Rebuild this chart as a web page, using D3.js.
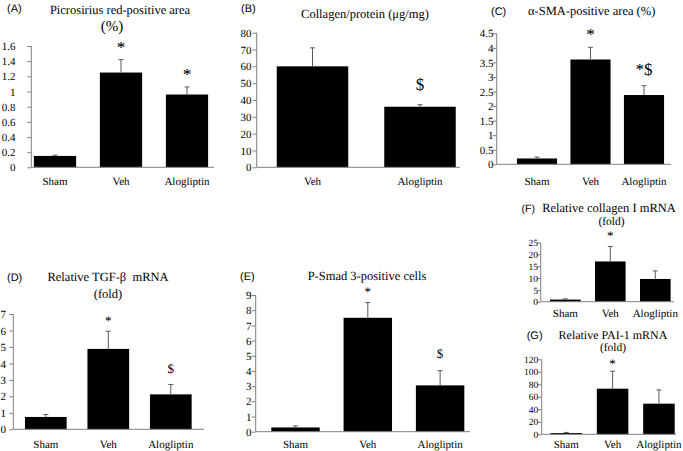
<!DOCTYPE html>
<html>
<head>
<meta charset="utf-8">
<script src="https://cdn.jsdelivr.net/npm/d3@7"></script>
<style>
  html, body { margin: 0; padding: 0; background: #fff; }
  svg { display: block; }
  text { white-space: pre; text-rendering: geometricPrecision; }
</style>
</head>
<body>
<svg id="chart" width="683" height="451"></svg>
<script>
// ---------------- DATA ----------------
const groups3 = ["Sham", "Veh", "Alogliptin"];
const groups2 = ["Veh", "Alogliptin"];

// (A) Picrosirius red-positive area (%)
const picroMean = [0.15, 1.25, 0.96];
const picroErr  = [0.01, 0.17, 0.10];
const picroMarks = ["", "*", "*"];
const picroTicks = [0, 0.2, 0.4, 0.6, 0.8, 1, 1.2, 1.4, 1.6];

// (B) Collagen/protein (ug/mg)
const collMean = [60, 36];
const collErr  = [11, 1.2];
const collMarks = ["", "$"];
const collTicks = [0, 10, 20, 30, 40, 50, 60, 70, 80];

// (C) alpha-SMA-positive area (%)
const smaMean = [0.2, 3.6, 2.38];
const smaErr  = [0.05, 0.42, 0.32];
const smaMarks = ["", "*", "*$"];
const smaTicks = [0, 0.5, 1, 1.5, 2, 2.5, 3, 3.5, 4, 4.5];

// (D) Relative TGF-beta mRNA (fold)
const tgfMean = [0.75, 4.88, 2.12];
const tgfErr  = [0.15, 1.07, 0.60];
const tgfMarks = ["", "*", "$"];
const tgfTicks = [0, 1, 2, 3, 4, 5, 6, 7];

// (E) P-Smad 3-positive cells
const smadMean = [0.28, 7.5, 3.05];
const smadErr  = [0.10, 1.0, 0.97];
const smadMarks = ["", "*", "$"];
const smadTicks = [0, 1, 2, 3, 4, 5, 6, 7, 8, 9];

// (F) Relative collagen I mRNA (fold)
const col1Mean = [0.9, 17, 9.6];
const col1Err  = [0.3, 6.3, 3.4];
const col1Marks = ["", "*", ""];
const col1Ticks = [0, 5, 10, 15, 20, 25];

// (G) Relative PAI-1 mRNA (fold)
const paiMean = [2, 73, 49];
const paiErr  = [1, 28, 22];
const paiMarks = ["", "*", ""];
const paiTicks = [0, 20, 40, 60, 80, 100, 120];

// ---------------- DRAWING ----------------
const svg = d3.select("#chart");
const SERIF = "'Liberation Serif', 'Times New Roman', serif";
const SANS = "'Liberation Sans', Arial, sans-serif";
const AXIS_COL = "#808080";
const ERR_COL = "#5a5a5a";

function panel(c) {
  const g = svg.append("g");
  const y = d3.scaleLinear().domain([0, c.ticks[c.ticks.length - 1]]).range([c.yBase, c.yTop]);
  const x = d3.scaleBand().domain(c.cats).range(c.band)
    .paddingInner(c.pad).paddingOuter(c.pad / 2);

  // bars
  g.selectAll("rect.bar").data(c.cats).join("rect")
    .attr("x", d => x(d))
    .attr("y", (d, i) => y(c.mean[i]))
    .attr("width", x.bandwidth())
    .attr("height", (d, i) => y(0) - y(c.mean[i]))
    .attr("fill", "#000");

  // error bars (upper only)
  const eb = g.selectAll("g.err").data(c.cats).join("g");
  eb.append("line")
    .attr("x1", d => x(d) + x.bandwidth() / 2).attr("x2", d => x(d) + x.bandwidth() / 2)
    .attr("y1", (d, i) => y(c.mean[i])).attr("y2", (d, i) => y(c.mean[i] + c.err[i]))
    .attr("stroke", ERR_COL).attr("stroke-width", 1);
  eb.append("line")
    .attr("x1", d => x(d) + x.bandwidth() / 2 - 2.5).attr("x2", d => x(d) + x.bandwidth() / 2 + 2.5)
    .attr("y1", (d, i) => y(c.mean[i] + c.err[i])).attr("y2", (d, i) => y(c.mean[i] + c.err[i]))
    .attr("stroke", ERR_COL).attr("stroke-width", 1);

  // y axis
  const yAxis = d3.axisLeft(y).tickValues(c.ticks).tickSize(4)
    .tickFormat(d => String(+d.toFixed(2)));
  const ya = g.append("g").attr("transform", `translate(${c.axisX},0)`).call(yAxis);
  ya.select(".domain").attr("stroke", AXIS_COL).attr("d", `M0,${c.yBase}V${c.yTop}`);
  ya.selectAll(".tick line").attr("stroke", AXIS_COL);
  ya.selectAll(".tick text")
    .attr("x", -(c.axisX - c.labelRight))
    .attr("dy", "0.33em")
    .attr("font-family", SERIF).attr("font-size", c.tickFont).attr("fill", "#000");

  // x axis line
  g.append("line")
    .attr("x1", c.axisX).attr("x2", c.axisEnd)
    .attr("y1", c.yBase).attr("y2", c.yBase)
    .attr("stroke", AXIS_COL).attr("stroke-width", 1);

  // category labels
  g.selectAll("text.cat").data(c.cats).join("text")
    .attr("x", d => x(d) + x.bandwidth() / 2)
    .attr("y", c.labelBase)
    .attr("text-anchor", "middle")
    .attr("font-family", SERIF).attr("font-size", 11)
    .text(d => d);

  // significance marks
  g.selectAll("text.mark").data(c.cats).join("text")
    .attr("x", d => x(d) + x.bandwidth() / 2)
    .attr("y", (d, i) => {
      const m = c.marks[i];
      const top = y(c.mean[i] + c.err[i]);
      if (m.includes("$")) return top - c.dollarGap + 0.33 * c.markFont;
      return top - c.starGap + 0.5 * c.markFont;
    })
    .attr("text-anchor", "middle")
    .attr("font-family", SERIF).attr("font-size", c.markFont)
    .attr("fill", "#000")
    .text((d, i) => c.marks[i]);

  // titles
  c.titles.forEach(t => {
    g.append("text").attr("x", t.x).attr("y", t.y)
      .attr("text-anchor", "middle")
      .attr("font-family", SERIF).attr("font-size", t.size)
      .text(t.text);
  });
  g.append("text").attr("x", c.letter.x).attr("y", c.letter.y)
    .attr("font-family", SANS).attr("font-size", c.letter.size || 11)
    .text(c.letter.text);
}

panel({
  cats: groups3, mean: picroMean, err: picroErr, marks: picroMarks, ticks: picroTicks,
  axisX: 31.3, axisEnd: 214, yBase: 167.3, yTop: 46, band: [22, 220], pad: 0.36,
  labelRight: 15.5, tickFont: 11, labelBase: 185,
  markFont: 17, starGap: 15, dollarGap: 17,
  titles: [{ text: "Picrosirius red-positive area", x: 120, y: 14, size: 12.5 },
           { text: "(%)", x: 112, y: 30.5, size: 15 }],
  letter: { text: "(A)", x: 7, y: 11.5 }
});

panel({
  cats: groups2, mean: collMean, err: collErr, marks: collMarks, ticks: collTicks,
  axisX: 256.7, axisEnd: 460, yBase: 167.3, yTop: 32.7, band: [258.75, 473.75], pad: 0.335,
  labelRight: 251.5, tickFont: 11, labelBase: 185,
  markFont: 17, starGap: 15, dollarGap: 20,
  titles: [{ text: "Collagen/protein (μg/mg)", x: 365, y: 17.5, size: 12.5 }],
  letter: { text: "(B)", x: 241, y: 11.5 }
});

panel({
  cats: groups3, mean: smaMean, err: smaErr, marks: smaMarks, ticks: smaTicks,
  axisX: 496.7, axisEnd: 671, yBase: 164.3, yTop: 33.3, band: [510.25, 670.75], pad: 0.25,
  labelRight: 493.5, tickFont: 11, labelBase: 185,
  markFont: 17, starGap: 15.5, dollarGap: 16,
  titles: [{ text: "α-SMA-positive area (%)", x: 591.7, y: 14.5, size: 12.5 }],
  letter: { text: "(C)", x: 491, y: 14.5 }
});

panel({
  cats: groups3, mean: tgfMean, err: tgfErr, marks: tgfMarks, ticks: tgfTicks,
  axisX: 13.3, axisEnd: 204, yBase: 429.3, yTop: 314, band: [14.55, 202.05], pad: 0.333,
  labelRight: 6, tickFont: 11, labelBase: 447.5,
  markFont: 13, starGap: 12.5, dollarGap: 16,
  titles: [{ text: "Relative TGF-β  mRNA", x: 108, y: 281, size: 12.5 },
           { text: "(fold)", x: 108, y: 297.5, size: 12.5 }],
  letter: { text: "(D)", x: 7, y: 281 }
});

panel({
  cats: groups3, mean: smadMean, err: smadErr, marks: smadMarks, ticks: smadTicks,
  axisX: 255.7, axisEnd: 470, yBase: 431.7, yTop: 295, band: [259.35, 476.25], pad: 0.33,
  labelRight: 251.5, tickFont: 11, labelBase: 447.8,
  markFont: 13, starGap: 12.6, dollarGap: 17,
  titles: [{ text: "P-Smad 3-positive cells", x: 367, y: 280, size: 12.5 }],
  letter: { text: "(E)", x: 240, y: 280 }
});

panel({
  cats: groups3, mean: col1Mean, err: col1Err, marks: col1Marks, ticks: col1Ticks,
  axisX: 540.7, axisEnd: 674, yBase: 301.7, yTop: 242.5, band: [542.8, 677.8], pad: 0.32,
  labelRight: 538, tickFont: 9.5, labelBase: 317,
  markFont: 13, starGap: 13.5, dollarGap: 17,
  titles: [{ text: "Relative collagen I mRNA", x: 609, y: 212, size: 12.5 },
           { text: "(fold)", x: 611.5, y: 224.5, size: 11.5 }],
  letter: { text: "(F)", x: 521.5, y: 212, size: 10.5 }
});

panel({
  cats: groups3, mean: paiMean, err: paiErr, marks: paiMarks, ticks: paiTicks,
  axisX: 541.7, axisEnd: 676, yBase: 434.3, yTop: 359.3, band: [543.1, 682.1], pad: 0.32,
  labelRight: 538.3, tickFont: 9.5, labelBase: 447.5,
  markFont: 13, starGap: 9.5, dollarGap: 17,
  titles: [{ text: "Relative PAI-1 mRNA", x: 613, y: 338.5, size: 12 },
           { text: "(fold)", x: 613, y: 351, size: 11.5 }],
  letter: { text: "(G)", x: 526.7, y: 338.5 }
});
</script>
</body>
</html>
